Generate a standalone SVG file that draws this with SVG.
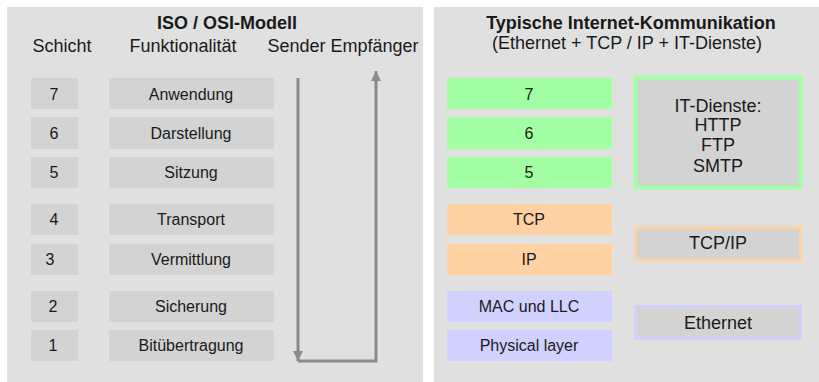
<svg xmlns="http://www.w3.org/2000/svg" width="819" height="382" viewBox="0 0 819 382">
  <defs>
    <style>
      text { font-family: "Liberation Sans", Arial, sans-serif; fill: #1a1a1a; text-anchor: middle; }
      .title { font-size: 18px; font-weight: bold; }
      .head { font-size: 18px; }
      .lbl { font-size: 16px; }
      .big { font-size: 18px; }
      .panel { fill: #e0e0e0; }
      .box { fill: #d3d3d3; }
      .app { fill: #a3ffa3; }
      .net { fill: #ffd1a3; }
      .lnk { fill: #d1d1ff; }
      .flow { fill: none; stroke: #8a8a8a; stroke-width: 3; }
    </style>
    <marker id="head" viewBox="0 0 10 10" refX="10" refY="5" markerWidth="10" markerHeight="10" markerUnits="userSpaceOnUse" orient="auto">
      <path d="M0,0 L10,5 L0,10 z" fill="#8a8a8a"/>
    </marker>
  </defs>

  <rect width="819" height="382" fill="#ffffff"/>

  <!-- left panel: ISO / OSI model -->
  <rect class="panel" x="7" y="7" width="416" height="375"/>
  <text class="title" x="227" y="29">ISO / OSI-Modell</text>
  <text class="head" x="62" y="52">Schicht</text>
  <text class="head" x="183" y="52">Funktionalität</text>
  <text class="head" x="343" y="52">Sender Empfänger</text>

  <g id="osi7"><rect class="box" x="31" y="78" width="47" height="31"/><rect class="box" x="109" y="78" width="165" height="31"/>
    <text class="lbl" x="54" y="100">7</text><text class="lbl" x="191" y="100">Anwendung</text></g>
  <g id="osi6"><rect class="box" x="31" y="117" width="47" height="32"/><rect class="box" x="109" y="117" width="165" height="32"/>
    <text class="lbl" x="54" y="139">6</text><text class="lbl" x="191" y="139">Darstellung</text></g>
  <g id="osi5"><rect class="box" x="31" y="157" width="47" height="31"/><rect class="box" x="109" y="157" width="165" height="31"/>
    <text class="lbl" x="54" y="178">5</text><text class="lbl" x="191" y="178">Sitzung</text></g>
  <g id="osi4"><rect class="box" x="31" y="204" width="47" height="31"/><rect class="box" x="109" y="204" width="165" height="31"/>
    <text class="lbl" x="54" y="225">4</text><text class="lbl" x="191" y="225">Transport</text></g>
  <g id="osi3"><rect class="box" x="31" y="244" width="47" height="31"/><rect class="box" x="109" y="244" width="165" height="31"/>
    <text class="lbl" x="50" y="265">3</text><text class="lbl" x="191" y="265">Vermittlung</text></g>
  <g id="osi2"><rect class="box" x="31" y="291" width="47" height="31"/><rect class="box" x="109" y="291" width="165" height="31"/>
    <text class="lbl" x="53" y="312">2</text><text class="lbl" x="191" y="312">Sicherung</text></g>
  <g id="osi1"><rect class="box" x="31" y="330" width="47" height="31"/><rect class="box" x="109" y="330" width="165" height="31"/>
    <text class="lbl" x="53" y="351">1</text><text class="lbl" x="191" y="351">Bitübertragung</text></g>

  <!-- data flow: down the sender stack, across, up the receiver stack -->
  <g id="connectors">
    <path class="flow" d="M298,78 V361" marker-end="url(#head)"/>
    <path class="flow" d="M298,361 H376 V71" marker-end="url(#head)"/>
  </g>

  <!-- right panel: typical internet communication -->
  <rect class="panel" x="434" y="7" width="385" height="375"/>
  <text class="title" x="631" y="29">Typische Internet-Kommunikation</text>
  <text class="head" x="627" y="49">(Ethernet + TCP / IP + IT-Dienste)</text>

  <g id="inet7"><rect class="app" x="447" y="78" width="165" height="31"/><text class="lbl" x="529" y="100">7</text></g>
  <g id="inet6"><rect class="app" x="447" y="117" width="165" height="32"/><text class="lbl" x="529" y="139">6</text></g>
  <g id="inet5"><rect class="app" x="447" y="157" width="165" height="31"/><text class="lbl" x="529" y="178">5</text></g>
  <g id="tcp"><rect class="net" x="447" y="204" width="165" height="31"/><text class="lbl" x="529" y="225">TCP</text></g>
  <g id="ip"><rect class="net" x="447" y="244" width="165" height="31"/><text class="lbl" x="529" y="265">IP</text></g>
  <g id="mac"><rect class="lnk" x="447" y="291" width="165" height="31"/><text class="lbl" x="529" y="312">MAC und LLC</text></g>
  <g id="phy"><rect class="lnk" x="447" y="330" width="165" height="31"/><text class="lbl" x="529" y="351">Physical layer</text></g>

  <g id="itdienste">
    <rect class="box" x="635.5" y="77.5" width="165" height="110" stroke="#a3ffa3" stroke-width="4"/>
    <text class="big" x="718" y="112">IT-Dienste:</text>
    <text class="big" x="718" y="131">HTTP</text>
    <text class="big" x="718" y="151">FTP</text>
    <text class="big" x="718" y="172">SMTP</text>
  </g>
  <g id="tcpip">
    <rect class="box" x="635.5" y="227.5" width="165" height="32" stroke="#ffd1a3" stroke-width="3"/>
    <text class="big" x="718" y="249">TCP/IP</text>
  </g>
  <g id="ethernet">
    <rect class="box" x="635.5" y="306.5" width="165" height="32" stroke="#d1d1ff" stroke-width="3"/>
    <text class="big" x="718" y="329">Ethernet</text>
  </g>
</svg>
